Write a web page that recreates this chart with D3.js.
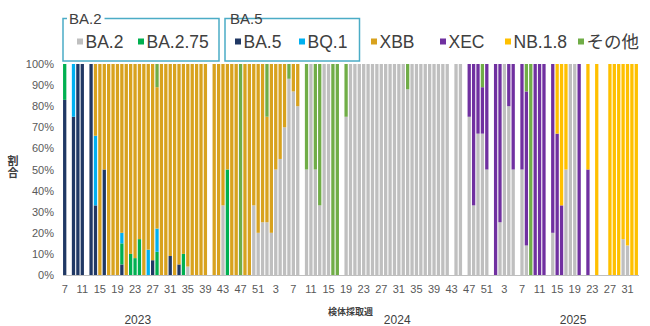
<!DOCTYPE html>
<html>
<head>
<meta charset="utf-8">
<script src="https://cdn.jsdelivr.net/npm/d3@7"></script>
<style>
  html, body { margin: 0; padding: 0; background: #fff; }
  svg { display: block; font-family: "Liberation Sans", Arial, "Noto Sans CJK JP", sans-serif; }
</style>
</head>
<body>
<svg id="chart" width="650" height="326"></svg>
<script>
// Sampling weeks covered by the chart (ISO weeks)
const yearSpans = [
  { year: 2023, first: 7, last: 52 },
  { year: 2024, first: 1, last: 52 },
  { year: 2025, first: 1, last: 33 }
];
const categories = [];
yearSpans.forEach(s => { for (let w = s.first; w <= s.last; w++) categories.push(`${s.year}-${w}`); });

// Lineage names (stack order, bottom to top)
const lineages = ["BA.2", "BA.5", "BA.2.75", "BQ.1", "XBB", "XEC", "NB.1.8", "その他"];

// Share of detected lineages per week (%), 2023 w7–w52 | 2024 w1–w52 | 2025 w1–w33
const ba2 = [
  0,0,0,0,0,0,0,0,0,0,  0,0,0,0,0,0,0,0,0,0,  0,0,0,0,0,0,0,0,4,0,  0,0,0,0,0,0,33,0,0,0,  0,0,0,33,20,25,
  25,20,50,55,70,93,87,80,0,50,  100,50,33,100,100,0,0,0,75,100,  100,100,100,100,100,100,100,100,100,100,
  100,100,88,100,100,100,100,100,100,100,  100,100,0,100,100,0,75,33,67,67,  50,0,
  0,25,100,80,50,0,50,14,0,0,  0,0,0,20,0,0,50,100,100,0,  0,0,0,0,0,0,0,0,0,17,  14,0,0
];
const ba5 = [
  83,0,75,100,100,0,100,33,0,50,  0,0,0,5,0,0,0,0,0,0,  7,0,0,0,9,0,5,0,0,0,  0,0,0,0,0,0,0,0,0,0,  0,0,0,0,0,0,
  0,0,0,0,0,0,0,0,0,0,  0,0,0,0,0,0,0,0,0,0,  0,0,0,0,0,0,0,0,0,0,  0,0,0,0,0,0,0,0,0,0,  0,0,0,0,0,0,0,0,0,0,  0,0,
  0,0,0,0,0,0,0,0,0,0,  0,0,0,0,0,0,0,0,0,0,  0,0,0,0,0,0,0,0,0,0,  0,0,0
];
const ba275 = [
  17,0,0,0,0,0,0,0,0,0,  0,0,0,10,0,10,8,17,0,0,  0,11,0,0,0,0,0,10,0,0,  0,0,0,0,0,0,0,50,0,0,  0,0,0,0,0,0,
  0,0,0,0,0,0,0,0,0,0,  0,0,0,0,0,0,0,0,0,0,  0,0,0,0,0,0,0,0,0,0,  0,0,0,0,0,0,0,0,0,0,  0,0,0,0,0,0,0,0,0,0,  0,0,
  0,0,0,0,0,0,0,0,0,0,  0,0,0,0,0,0,0,0,0,0,  0,0,0,0,0,0,0,0,0,0,  0,0,0
];
const bq1 = [
  0,0,25,0,0,0,0,33,0,0,  0,0,0,5,0,0,0,0,0,12,  0,11,0,0,0,0,0,0,0,0,  0,0,0,0,0,0,0,0,0,0,  0,0,0,0,0,0,
  0,0,0,0,0,0,0,0,0,0,  0,0,0,0,0,0,0,0,0,0,  0,0,0,0,0,0,0,0,0,0,  0,0,0,0,0,0,0,0,0,0,  0,0,0,0,0,0,0,0,0,0,  0,0,
  0,0,0,0,0,0,0,0,0,0,  0,0,0,0,0,0,0,0,0,0,  0,0,0,0,0,0,0,0,0,0,  0,0,0
];
const xbb = [
  0,0,0,0,0,0,0,34,100,50,  100,100,100,80,100,90,92,83,100,88,  93,67,100,100,91,100,95,90,96,100,
  100,100,100,0,100,100,67,50,100,100,  0,100,100,67,80,75,
  50,80,50,45,30,0,13,20,0,0,  0,0,0,0,0,0,0,0,0,0,  0,0,0,0,0,0,0,0,0,0,  0,0,0,0,0,0,0,0,0,0,  0,0,0,0,0,0,0,0,0,0,  0,0,
  0,0,0,0,0,0,0,0,0,0,  0,0,0,0,0,0,0,0,0,0,  0,0,0,0,0,0,0,0,0,0,  0,0,0
];
const xec = [
  0,0,0,0,0,0,0,0,0,0,  0,0,0,0,0,0,0,0,0,0,  0,0,0,0,0,0,0,0,0,0,  0,0,0,0,0,0,0,0,0,0,  0,0,0,0,0,0,
  0,0,0,0,0,0,0,0,0,0,  0,0,0,0,0,0,0,0,0,0,  0,0,0,0,0,0,0,0,0,0,  0,0,0,0,0,0,0,0,0,0,  0,0,0,0,0,0,25,67,33,22,  50,0,
  100,75,0,20,50,0,50,73,0,100,  100,100,0,80,67,33,0,0,0,100,  0,50,0,0,0,0,0,0,0,0,  0,0,0
];
const nb18 = [
  0,0,0,0,0,0,0,0,0,0,  0,0,0,0,0,0,0,0,0,0,  0,0,0,0,0,0,0,0,0,0,  0,0,0,0,0,0,0,0,0,0,  0,0,0,0,0,0,
  0,0,0,0,0,0,0,0,0,0,  0,0,0,0,0,0,0,0,0,0,  0,0,0,0,0,0,0,0,0,0,  0,0,0,0,0,0,0,0,0,0,  0,0,0,0,0,0,0,0,0,0,  0,0,
  0,0,0,0,0,0,0,0,0,0,  0,0,0,0,33,67,50,0,0,0,  0,50,0,100,0,0,100,100,100,83,  86,100,100
];
const other = [
  0,0,0,0,0,0,0,0,0,0,  0,0,0,0,0,0,0,0,0,0,  0,11,0,0,0,0,0,0,0,0,  0,0,0,0,0,0,0,0,0,0,  100,0,0,0,0,0,
  25,0,0,0,0,7,0,0,0,50,  0,50,67,0,0,100,100,0,25,0,  0,0,0,0,0,0,0,0,0,0,  0,0,12,0,0,0,0,0,0,0,  0,0,0,0,0,0,0,0,0,11,  0,0,
  0,0,0,0,0,0,0,13,100,0,  0,0,0,0,0,0,0,0,0,0,  0,0,0,0,0,0,0,0,0,0,  0,0,0
];

const yTicks = [0, 10, 20, 30, 40, 50, 60, 70, 80, 90, 100];
const yearLabels = [
  { text: "2023", at: "2023-24" },
  { text: "2024", at: "2024-31" },
  { text: "2025", at: "2025-19" }
];

const colors = {
  "BA.2": "#BFBFBF", "BA.2.75": "#00B050", "BA.5": "#203864", "BQ.1": "#00B0F0",
  "XBB": "#D8A21E", "XEC": "#7030A0", "NB.1.8": "#FFC000", "その他": "#70AD47"
};

const seriesByName = {
  "BA.2": ba2, "BA.5": ba5, "BA.2.75": ba275, "BQ.1": bq1,
  "XBB": xbb, "XEC": xec, "NB.1.8": nb18, "その他": other
};
const rows = categories.map((c, i) => {
  const r = { key: c };
  lineages.forEach(n => { r[n] = seriesByName[n][i]; });
  return r;
});

const svg = d3.select("#chart");

const x = d3.scaleBand().domain(categories).range([62.5, 638.5]).paddingInner(0.25).paddingOuter(0.125);
const y = d3.scaleLinear().domain([0, 100]).range([275, 64]);

// Stacked bars
const stacked = d3.stack().keys(lineages)(rows);
svg.append("g").selectAll("g").data(stacked).join("g")
  .attr("fill", d => colors[d.key])
  .selectAll("rect").data(d => d.filter(p => p[1] - p[0] > 0)).join("rect")
  .attr("x", d => x(d.data.key))
  .attr("width", x.bandwidth())
  .attr("y", d => y(d[1]))
  .attr("height", d => y(d[0]) - y(d[1]));

// Y axis labels
const yAxis = svg.append("g").attr("transform", "translate(54,0)")
  .call(d3.axisLeft(y).tickValues(yTicks).tickFormat(d => d + "%").tickSize(0).tickPadding(0));
yAxis.select(".domain").remove();
yAxis.selectAll("text").attr("font-size", 11).attr("fill", "#595959")
  .attr("font-family", "Liberation Sans, Arial, sans-serif");

// X axis baseline and week labels
const xAxis = svg.append("g").attr("transform", "translate(0,275)")
  .call(d3.axisBottom(x)
    .tickValues(categories.filter((c, i) => i % 4 === 0))
    .tickFormat(c => c.split("-")[1])
    .tickSizeInner(0).tickSizeOuter(0).tickPadding(10));
xAxis.select(".domain").attr("stroke", "#BFBFBF").attr("stroke-width", 1);
xAxis.selectAll("text").attr("font-size", 11).attr("fill", "#595959")
  .attr("font-family", "Liberation Sans, Arial, sans-serif");

// Year labels
svg.append("g").selectAll("text").data(yearLabels).join("text")
  .attr("x", d => x(d.at)).attr("y", 324)
  .attr("text-anchor", "middle").attr("font-size", 12).attr("fill", "#404040")
  .text(d => d.text);

// Axis titles
svg.append("text").attr("x", 350.5).attr("y", 315).attr("text-anchor", "middle")
  .attr("font-size", 9).attr("font-weight", "bold").attr("fill", "#404040")
  .attr("font-family", "Noto Sans CJK JP, sans-serif").text("検体採取週");
svg.append("text").attr("x", 13).attr("y", 155)
  .style("writing-mode", "vertical-rl")
  .attr("font-size", 11).attr("font-weight", "bold").attr("fill", "#404040")
  .attr("letter-spacing", 1)
  .attr("font-family", "Noto Sans CJK JP, sans-serif").text("割合");

// Legend
const groups = [
  { title: "BA.2", x: 63, w: 156, tx: 69 },
  { title: "BA.5", x: 225, w: 134.5, tx: 230 }
];
const gBox = svg.append("g");
groups.forEach(g => {
  gBox.append("rect").attr("x", g.x).attr("y", 18.5).attr("width", g.w).attr("height", 42.5)
    .attr("fill", "none").attr("stroke", "#4BACC6").attr("stroke-width", 1.5);
  const t = gBox.append("text").attr("x", g.tx).attr("y", 23.5).attr("font-size", 15)
    .attr("fill", "#404040").text(g.title);
  const bb = t.node().getBBox();
  gBox.insert("rect", "text").attr("x", bb.x - 2).attr("y", 16).attr("width", bb.width + 5).attr("height", 5)
    .attr("fill", "#fff");
});
const legendItems = [
  { name: "BA.2", x: 77 }, { name: "BA.2.75", x: 138 },
  { name: "BA.5", x: 235 }, { name: "BQ.1", x: 299 },
  { name: "XBB", x: 371 }, { name: "XEC", x: 440 },
  { name: "NB.1.8", x: 505 }, { name: "その他", x: 578 }
];
const li = svg.append("g").selectAll("g").data(legendItems).join("g")
  .attr("transform", d => `translate(${d.x},0)`);
li.append("rect").attr("x", 0).attr("y", 38.5).attr("width", 6).attr("height", 6)
  .attr("fill", d => colors[d.name]);
li.append("text").attr("x", 8.5).attr("y", 48).attr("font-size", 17.5).attr("fill", "#404040")
  .text(d => d.name);
</script>
</body>
</html>
